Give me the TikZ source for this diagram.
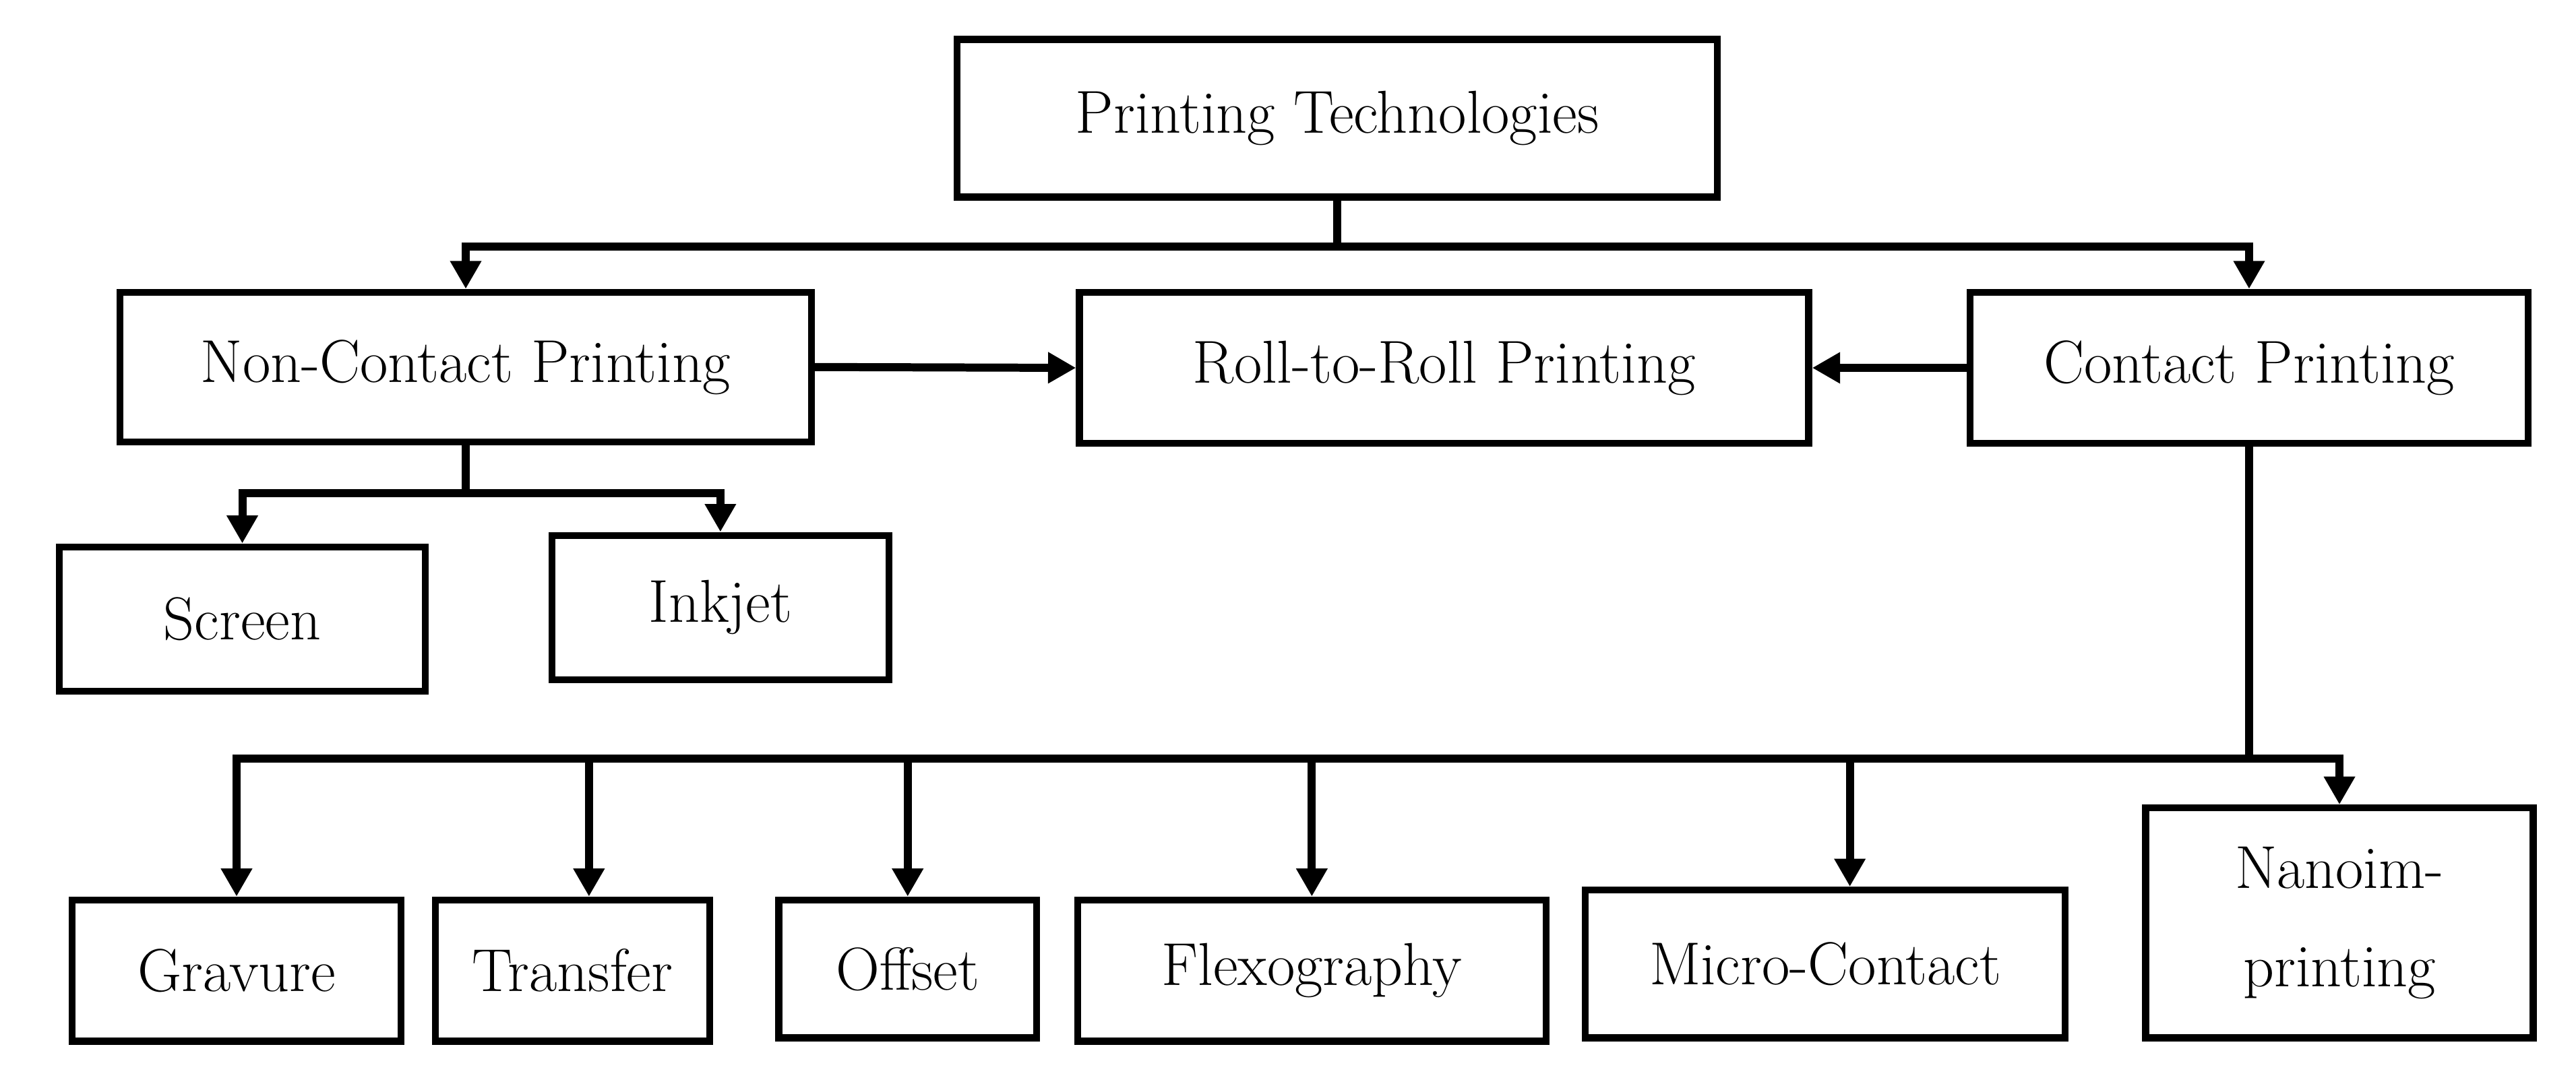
\documentclass[tikz,border=0pt]{standalone}
\usetikzlibrary{arrows.meta}
\begin{document}
\begin{tikzpicture}[x=0.02cm,y=-0.02cm,
    box/.style={draw,line width=2.4pt,inner sep=0pt,align=center,font=\fontsize{21}{34}\selectfont},
    conn/.style={line width=2.8pt},
    arr/.style={conn,-{Triangle[length=0.34cm,width=0.36cm]}}]
    % frame
    \useasboundingbox (0,0) rectangle (1568,660);
    % top level
    \node[box,minimum width=9.26cm,minimum height=1.92cm] (pt) at (814,72) {Printing Technologies};
    % second level
    \node[box,minimum width=8.42cm,minimum height=1.82cm] (nc) at (283.5,223.5) {Non-Contact Printing};
    \node[box,minimum width=8.88cm,minimum height=1.84cm] (rr) at (879,224) {Roll-to-Roll Printing};
    \node[box,minimum width=6.8cm,minimum height=1.84cm] (cp) at (1369,224) {Contact Printing};
    % non-contact methods
    \node[box,minimum width=4.46cm,minimum height=1.76cm] (sc) at (147.5,377) {Screen};
    \node[box,minimum width=4.1cm,minimum height=1.76cm] (ij) at (438.5,370) {Inkjet};
    % contact methods
    \node[box,minimum width=4cm,minimum height=1.72cm] (gr) at (144,591) {Gravure};
    \node[box,minimum width=3.34cm,minimum height=1.72cm] (tr) at (348.5,591) {Transfer};
    \node[box,minimum width=3.14cm,minimum height=1.68cm] (of) at (552.5,590) {Offset};
    \node[box,minimum width=5.7cm,minimum height=1.72cm] (fl) at (798.5,591) {Flexography};
    \node[box,minimum width=5.84cm,minimum height=1.8cm] (mc) at (1111,587) {Micro-Contact};
    \node[box,minimum width=4.72cm,minimum height=2.8cm] (ni) at (1424,562) {Nanoim-\\printing};
    % top branches
    \draw[conn] (pt.south) -- ++(0,28) coordinate (tj);
    \draw[arr] (tj) -| (nc.north);
    \draw[arr] (tj) -| (cp.north);
    % into roll-to-roll
    \draw[arr] (nc.east) -- (rr.west);
    \draw[arr] (cp.west) -- (rr.east);
    % non-contact branches
    \draw[conn] (nc.south) -- ++(0,29) coordinate (nj);
    \draw[arr] (nj) -| (sc.north);
    \draw[arr] (nj) -| (ij.north);
    % contact branches
    \draw[conn] (cp.south) -- ++(0,190) coordinate (cj);
    \foreach \n/\dx in {gr/0,tr/10,of/0,fl/0,mc/15,ni/0}
        \draw[arr] (cj) -| ([xshift=\dx*0.02cm]\n.north);
\end{tikzpicture}
\end{document}
